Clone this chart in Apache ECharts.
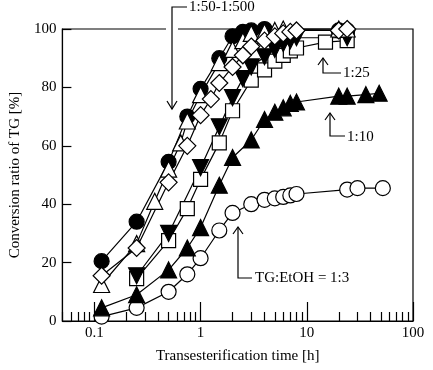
<!DOCTYPE html>
<html>
<head>
<meta charset="utf-8">
<script src="https://cdn.jsdelivr.net/npm/echarts@6/dist/echarts.min.js"></script>
<style>
html, body { margin: 0; padding: 0; background: #fff; }
#chart { width: 433px; height: 370px; }
</style>
</head>
<body>
<div id="chart"></div>
<script>
// x ticks (log axis)
var majorTicks = [0.1, 1, 10, 100];
var minorTicks = [0.05, 0.06, 0.07, 0.08, 0.09, 0.2, 0.3, 0.4, 0.5, 0.6, 0.7, 0.8, 0.9,
                  2, 3, 4, 5, 6, 7, 8, 9, 20, 30, 40, 50, 60, 70, 80, 90];

// TG:EtOH = 1:3 (open circle)
var t1_3 = [0.117, 0.25, 0.5, 0.75, 1, 1.5, 2, 3, 4, 5, 6, 7, 8, 24, 30, 52];
var y1_3 = [1.5, 4.5, 10, 16, 21.5, 31, 37, 40, 41.5, 42, 42.5, 43, 43.5, 45, 45.5, 45.5];
// 1:10 (filled triangle)
var t1_10 = [0.117, 0.25, 0.5, 0.75, 1, 1.5, 2, 3, 4, 5, 6, 7, 8, 20, 24, 36, 48];
var y1_10 = [4.5, 9, 17.5, 25, 32, 46.5, 56, 62, 69, 71.5, 73, 74.5, 75, 77, 77, 77.5, 78];
// 1:25 (open square)
var t1_25 = [0.25, 0.5, 0.75, 1, 1.5, 2, 3, 4, 5, 6, 7, 8, 15, 24];
var y1_25 = [14.5, 27.5, 38.5, 48.5, 61, 72, 82.5, 86, 89, 91, 92.5, 93.5, 95.5, 96];
// filled inverted triangle
var tInv = [0.25, 0.5, 1, 1.5, 2, 2.5, 3, 4, 5, 6, 7, 8, 24];
var yInv = [15.5, 30, 52.5, 66.5, 76.5, 83, 87, 90.5, 93, 95, 96, 97, 97];
// filled circle
var tDot = [0.117, 0.25, 0.5, 0.75, 1, 1.5, 2, 2.5, 3, 4, 20, 24];
var yDot = [20.5, 34, 54.5, 70, 79.5, 90, 97.5, 99, 99.5, 100, 99.5, 99.5];
// open triangle
var tTri = [0.117, 0.25, 0.37, 0.5, 0.65, 0.75, 1, 1.5, 2, 2.5, 3, 4, 5, 6, 20, 24];
var yTri = [12.5, 26.5, 41, 52, 61, 68.5, 77.5, 88.5, 93, 96, 98.5, 99, 99.5, 100, 100, 100];
// open diamond
var tDia = [0.117, 0.25, 0.5, 0.75, 1, 1.25, 1.5, 2, 2.5, 3, 4, 5, 6, 7, 8, 20, 24];
var yDia = [15.5, 25, 47.5, 60, 70.5, 76, 81.5, 87, 91, 94, 96, 97.5, 98.5, 99, 99.5, 99.5, 100];

var font = '"Liberation Serif", "Times New Roman", serif';

function zip(t, y) {
    var out = [];
    for (var i = 0; i < t.length; i++) out.push([t[i], y[i]]);
    return out;
}

function mk(name, t, y, symbol, filled, size, rotate) {
    return {
        name: name,
        type: 'line',
        data: zip(t, y),
        symbol: symbol,
        symbolSize: size,
        symbolRotate: rotate || 0,
        showAllSymbol: true,
        clip: false,
        lineStyle: { color: '#000', width: 1.2 },
        itemStyle: { color: filled ? '#000' : '#fff', borderColor: '#000', borderWidth: 1.2 },
        emphasis: { disabled: true }
    };
}

var chart = echarts.init(document.getElementById('chart'));
chart.setOption({
    animation: false,
    textStyle: { fontFamily: font },
    grid: { left: 61, right: 20, top: 29, bottom: 49, show: true, borderColor: '#000', borderWidth: 1.2 },
    xAxis: [{
        type: 'log', min: 0.05, max: 100,
        name: 'Transesterification time [h]', nameLocation: 'middle', nameGap: 28,
        nameTextStyle: { fontSize: 15, color: '#000', fontFamily: font },
        axisLine: { lineStyle: { color: '#000', width: 1.2 } },
        axisTick: { inside: true, length: 19, customValues: majorTicks, lineStyle: { color: '#000', width: 1.2 } },
        axisLabel: { customValues: majorTicks, fontSize: 15, color: '#000', fontFamily: font, margin: 5,
            formatter: function (v) { return String(+v.toPrecision(3)); } },
        splitLine: { show: false }
    }, {
        type: 'log', min: 0.05, max: 100, position: 'bottom',
        axisLine: { show: false },
        axisTick: { inside: true, length: 9, customValues: minorTicks, lineStyle: { color: '#000', width: 1.2 } },
        axisLabel: { show: false },
        splitLine: { show: false }
    }],
    yAxis: {
        type: 'value', min: 0, max: 100, interval: 20,
        name: 'Conversion ratio of TG [%]', nameLocation: 'middle', nameGap: 36,
        nameTextStyle: { fontSize: 15, color: '#000', fontFamily: font },
        axisLine: { show: true, lineStyle: { color: '#000', width: 1.2 } },
        axisTick: { show: true, inside: true, length: 9, lineStyle: { color: '#000', width: 1.2 } },
        axisLabel: { fontSize: 15, color: '#000', fontFamily: font, margin: 6 },
        splitLine: { show: false }
    },
    series: [
        mk('1:3', t1_3, y1_3, 'circle', false, 15),
        mk('1:10', t1_10, y1_10, 'triangle', true, 16),
        mk('1:25', t1_25, y1_25, 'rect', false, 14),
        mk('inv', tInv, yInv, 'triangle', true, 16, 180),
        mk('dot', tDot, yDot, 'circle', true, 15),
        mk('tri', tTri, yTri, 'triangle', false, 16),
        mk('dia', tDia, yDia, 'diamond', false, 17)
    ],
    graphic: [
        { type: 'rect', z: 100, shape: { x: 166, y: 26, width: 12, height: 6 }, style: { fill: '#fff' } },
        { type: 'polyline', z: 101, shape: { points: [[187, 7], [172, 7], [172, 109]] }, style: { stroke: '#000', lineWidth: 1.2, fill: null } },
        { type: 'polyline', z: 101, shape: { points: [[167, 101], [172, 109], [177, 101]] }, style: { stroke: '#000', lineWidth: 1.2, fill: null } },
        { type: 'text', z: 101, style: { text: '1:50-1:500', x: 189, y: 7, textVerticalAlign: 'middle', font: '15px ' + font, fill: '#000' } },

        { type: 'polyline', z: 101, shape: { points: [[323, 58], [323, 73], [341, 73]] }, style: { stroke: '#000', lineWidth: 1.2, fill: null } },
        { type: 'polyline', z: 101, shape: { points: [[318, 65], [323, 58], [328, 65]] }, style: { stroke: '#000', lineWidth: 1.2, fill: null } },
        { type: 'text', z: 101, style: { text: '1:25', x: 343, y: 73, textVerticalAlign: 'middle', font: '15px ' + font, fill: '#000' } },

        { type: 'polyline', z: 101, shape: { points: [[330, 113], [330, 136], [345, 136]] }, style: { stroke: '#000', lineWidth: 1.2, fill: null } },
        { type: 'polyline', z: 101, shape: { points: [[325, 120], [330, 113], [335, 120]] }, style: { stroke: '#000', lineWidth: 1.2, fill: null } },
        { type: 'text', z: 101, style: { text: '1:10', x: 347, y: 137, textVerticalAlign: 'middle', font: '15px ' + font, fill: '#000' } },

        { type: 'polyline', z: 101, shape: { points: [[238, 227], [238, 278], [252, 278]] }, style: { stroke: '#000', lineWidth: 1.2, fill: null } },
        { type: 'polyline', z: 101, shape: { points: [[233, 234], [238, 227], [243, 234]] }, style: { stroke: '#000', lineWidth: 1.2, fill: null } },
        { type: 'text', z: 101, style: { text: 'TG:EtOH = 1:3', x: 255, y: 278, textVerticalAlign: 'middle', font: '15px ' + font, fill: '#000' } }
    ]
});
</script>
</body>
</html>
